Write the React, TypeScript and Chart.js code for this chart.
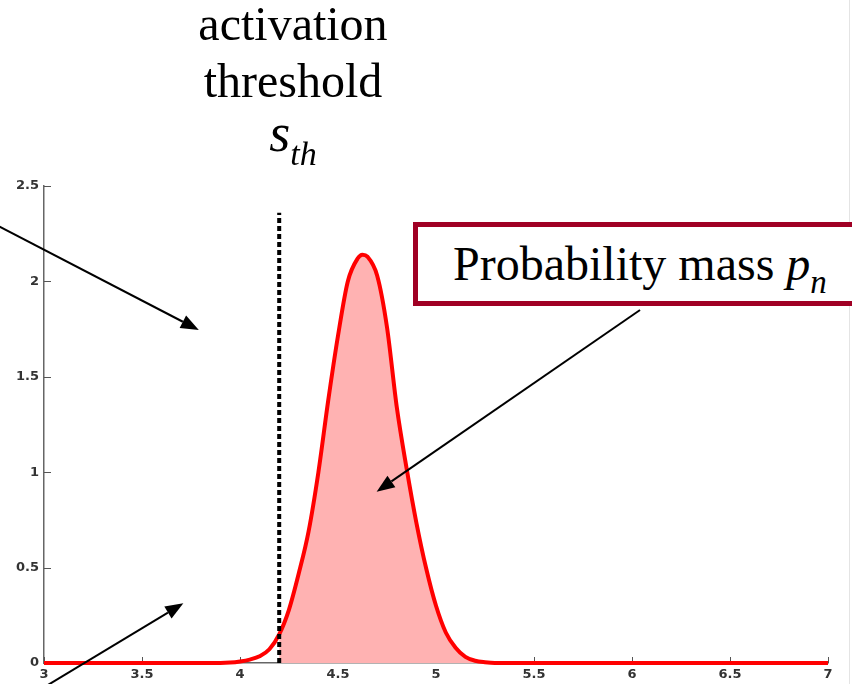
import React, { useEffect, useRef } from "react";
import { Chart, registerables } from "chart.js";

Chart.register(...registerables);
Chart.defaults.font.family = "'DejaVu Sans', Verdana, sans-serif";
Chart.defaults.font.size = 13;
Chart.defaults.font.weight = "bold" as any;

// Density curve (x = state value, y = density)
const curveX = [3.0, 3.9, 3.95, 4.0, 4.05, 4.1, 4.15, 4.2, 4.25, 4.3, 4.35, 4.4, 4.45, 4.5, 4.55, 4.6, 4.625, 4.65, 4.7, 4.75, 4.8, 4.85, 4.9, 4.95, 5.0, 5.05, 5.1, 5.15, 5.2, 5.25, 5.3, 6.0, 7.0];
const curveY = [0, 0, 0.002, 0.008, 0.018, 0.035, 0.072, 0.15, 0.28, 0.47, 0.69, 1.0, 1.375, 1.715, 2.0, 2.12, 2.14, 2.13, 2.03, 1.76, 1.34, 1.02, 0.735, 0.495, 0.3, 0.16, 0.08, 0.032, 0.012, 0.004, 0, 0, 0];

const thresholdX = 4.2;
const thresholdTop = 2.36;

const xTicks = [3, 3.5, 4, 4.5, 5, 5.5, 6, 6.5, 7];
const yTicks = [0, 0.5, 1, 1.5, 2, 2.5];

// Arrow annotations in data coordinates: [x1, y1, x2(tip), y2(tip)]
const arrows = [
  [2.75, 2.3, 3.79, 1.745],
  [2.98, -0.14, 3.711, 0.313],
  [6.041, 1.85, 4.697, 0.898],
];

const annotPlugin = {
  id: "annot",
  beforeDatasetsDraw(chart: any) {
    const ctx = chart.ctx;
    const xs = chart.scales.x;
    const ys = chart.scales.y;
    const area = chart.chartArea;
    ctx.save();
    ctx.strokeStyle = "#555";
    ctx.lineWidth = 1;
    xTicks.forEach((v) => {
      const px = Math.round(xs.getPixelForValue(v)) + 0.5;
      ctx.beginPath();
      ctx.moveTo(px, area.bottom);
      ctx.lineTo(px, area.bottom - 6);
      ctx.stroke();
    });
    yTicks.forEach((v) => {
      const py = Math.round(ys.getPixelForValue(v)) + 0.5;
      ctx.beginPath();
      ctx.moveTo(area.left, py);
      ctx.lineTo(area.left + 7, py);
      ctx.stroke();
    });
    ctx.restore();
  },
  afterDraw(chart: any) {
    const ctx = chart.ctx;
    const xs = chart.scales.x;
    const ys = chart.scales.y;
    ctx.save();
    // faint slide edge line
    ctx.strokeStyle = "#e4e4e4";
    ctx.lineWidth = 1;
    ctx.beginPath();
    ctx.moveTo(849.5, 0);
    ctx.lineTo(849.5, chart.height);
    ctx.stroke();

    arrows.forEach(([a, b, c, d]) => {
      const x1 = xs.getPixelForValue(a);
      const y1 = ys.getPixelForValue(b);
      const x2 = xs.getPixelForValue(c);
      const y2 = ys.getPixelForValue(d);
      const ang = Math.atan2(y2 - y1, x2 - x1);
      const hl = 18;
      const hw = 7;
      const bx = x2 - hl * Math.cos(ang);
      const by = y2 - hl * Math.sin(ang);
      ctx.strokeStyle = "#000";
      ctx.fillStyle = "#000";
      ctx.lineWidth = 2;
      ctx.beginPath();
      ctx.moveTo(x1, y1);
      ctx.lineTo(bx, by);
      ctx.stroke();
      ctx.beginPath();
      ctx.moveTo(x2, y2);
      ctx.lineTo(bx + hw * Math.sin(ang), by - hw * Math.cos(ang));
      ctx.lineTo(bx - hw * Math.sin(ang), by + hw * Math.cos(ang));
      ctx.closePath();
      ctx.fill();
    });
    ctx.restore();
  },
};

const fmt = (v: any) => String(Number(v));

export default function App() {
  const ref = useRef<HTMLCanvasElement | null>(null);

  useEffect(() => {
    if (!ref.current) return;
    const linePts = curveX.map((x, i) => ({ x, y: curveY[i] }));
    const fillPts = linePts.filter((p) => p.x >= thresholdX);
    const chart = new Chart(ref.current, {
      type: "line",
      data: {
        datasets: [
          {
            data: [
              { x: thresholdX, y: 0 },
              { x: thresholdX, y: thresholdTop },
            ],
            borderColor: "#000",
            borderWidth: 4,
            borderDash: [5, 3],
            borderCapStyle: "butt",
            pointRadius: 0,
            fill: false,
            clip: false as any,
          },
          {
            data: linePts,
            borderColor: "#ff0000",
            borderWidth: 4,
            pointRadius: 0,
            fill: false,
            cubicInterpolationMode: "monotone",
            clip: false as any,
          },
          {
            data: fillPts,
            borderColor: "rgba(0,0,0,0)",
            borderWidth: 0,
            backgroundColor: "rgb(255,178,178)",
            pointRadius: 0,
            fill: "origin",
            cubicInterpolationMode: "monotone",
          },
        ],
      },
      options: {
        animation: false,
        responsive: false,
        layout: { padding: { top: 186, right: 24, left: 0, bottom: 0 } },
        plugins: { legend: { display: false }, tooltip: { enabled: false } },
        scales: {
          x: {
            type: "linear",
            min: 3,
            max: 7,
            afterFit: (s: any) => {
              s.height = 21;
            },
            afterBuildTicks: (s: any) => {
              s.ticks = xTicks.map((v) => ({ value: v }));
            },
            grid: { display: true, drawOnChartArea: false, drawTicks: false },
            border: { color: "#666", width: 1.5 },
            ticks: {
              padding: 4,
              color: "#333",
              font: { size: 13, weight: "bold" },
              maxRotation: 0,
              minRotation: 0,
              autoSkip: false,
              callback: fmt,
            },
          },
          y: {
            type: "linear",
            min: 0,
            max: 2.5,
            afterFit: (s: any) => {
              s.width = 44;
            },
            afterBuildTicks: (s: any) => {
              s.ticks = yTicks.map((v) => ({ value: v }));
            },
            grid: { display: true, drawOnChartArea: false, drawTicks: false },
            border: { color: "#666", width: 1.5 },
            ticks: {
              padding: 5,
              color: "#333",
              font: { size: 13, weight: "bold" },
              autoSkip: false,
              callback: fmt,
            },
          },
        },
      } as any,
      plugins: [annotPlugin],
    });
    return () => chart.destroy();
  }, []);

  const serif = '"Liberation Serif", "Times New Roman", serif';

  return (
    <div style={{ position: "fixed", left: 0, top: 0, width: 852, height: 684, background: "#fff", overflow: "hidden" }}>
      <canvas ref={ref} width={852} height={684} style={{ position: "absolute", left: 0, top: 0 }} />
      <div style={{ position: "absolute", left: 143, top: 0, width: 300, textAlign: "center", fontFamily: serif, fontSize: 48, lineHeight: "48px", color: "#000" }}>
        activation
      </div>
      <div style={{ position: "absolute", left: 143, top: 57, width: 300, textAlign: "center", fontFamily: serif, fontSize: 48, lineHeight: "48px", color: "#000" }}>
        threshold
      </div>
      <div style={{ position: "absolute", left: 143, top: 106, width: 300, textAlign: "center", fontFamily: serif, fontSize: 54, lineHeight: "54px", color: "#000" }}>
        <i>s</i>
        <i style={{ fontSize: 34, position: "relative", top: 14 }}>th</i>
      </div>
      <div
        style={{
          position: "absolute",
          left: 413,
          top: 222,
          width: 460,
          height: 74,
          border: "5px solid rgb(160,0,36)",
          background: "#fff",
        }}
      />
      <div style={{ position: "absolute", left: 453, top: 240, whiteSpace: "nowrap", fontFamily: serif, fontSize: 48, lineHeight: "48px", color: "#000" }}>
        Probability mass <i>p</i>
        <i style={{ fontSize: 33, position: "relative", top: 13 }}>n</i>
      </div>
    </div>
  );
}
